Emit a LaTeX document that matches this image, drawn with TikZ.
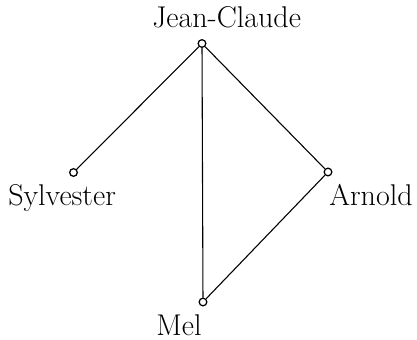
\documentclass[tikz,border=0pt]{standalone}
\usepackage{tikz}
\usetikzlibrary{positioning}

\begin{document}
\begin{tikzpicture}[
    x=0.6pt, y=-0.6pt,
    vertex/.style={draw, circle, fill=white, inner sep=0pt, minimum size=4.6pt, line width=0.75pt},
    person/.style={font=\fontsize{18}{21}\selectfont, inner sep=0pt, anchor=base west},
    edge/.style={line width=0.65pt}
]
    \useasboundingbox (0,0) rectangle (417,340);
    \node[vertex] (jc) at (202,43.5) {};
    \node[vertex] (syl) at (73.5,172.5) {};
    \node[vertex] (arn) at (328,172) {};
    \node[vertex] (mel) at (203,302) {};

    \node[person] (jclab) at (152,27) {Jean-Claude};
    \node[person] (syllab) at (8,205) {Sylvester};
    \node[person] (arnlab) at (329,205) {Arnold};
    \node[person] (mellab) at (156,335) {Mel};

    \draw[edge] (jc) -- (syl);
    \draw[edge] (jc) -- (mel);
    \draw[edge] (jc) -- (arn);
    \draw[edge] (arn) -- (mel);
\end{tikzpicture}
\end{document}
